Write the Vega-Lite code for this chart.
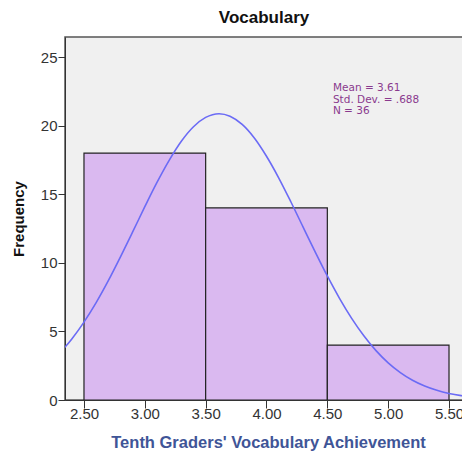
{
  "$schema": "https://vega.github.io/schema/vega-lite/v6.json",
  "width": 398,
  "height": 363,
  "autosize": "none",
  "padding": {"left": 65, "top": 37, "right": 0, "bottom": 56},
  "background": "white",
  "config": {
    "font": "Liberation Sans",
    "view": {"fill": "#f0f0f0", "stroke": "#555555", "strokeWidth": 1.5},
    "axis": {"grid": false, "domainColor": "#333333", "tickColor": "#333333", "labelColor": "#333333", "labelFontSize": 15, "labelFont": "Liberation Sans", "titleFont": "Liberation Sans"}
  },
  "title": {"text": "Vocabulary", "fontSize": 17, "font": "Liberation Sans", "fontWeight": "bold", "color": "#111111", "offset": 10, "anchor": "middle"},
  "datasets": {
    "bins": [
      {"lo": 2.5, "hi": 3.5, "count": 18},
      {"lo": 3.5, "hi": 4.5, "count": 14},
      {"lo": 4.5, "hi": 5.5, "count": 4}
    ],
    "curve": [
      {"x": 2.3, "y": 3.41}, {"x": 2.4, "y": 4.45}, {"x": 2.5, "y": 5.68}, {"x": 2.6, "y": 7.10},
      {"x": 2.7, "y": 8.70}, {"x": 2.8, "y": 10.44}, {"x": 2.9, "y": 12.25}, {"x": 3.0, "y": 14.09},
      {"x": 3.1, "y": 15.86}, {"x": 3.2, "y": 17.47}, {"x": 3.3, "y": 18.86}, {"x": 3.4, "y": 19.92},
      {"x": 3.5, "y": 20.60}, {"x": 3.61, "y": 20.87}, {"x": 3.7, "y": 20.69}, {"x": 3.8, "y": 20.09},
      {"x": 3.9, "y": 19.10}, {"x": 4.0, "y": 17.77}, {"x": 4.1, "y": 16.20}, {"x": 4.2, "y": 14.45},
      {"x": 4.3, "y": 12.62}, {"x": 4.4, "y": 10.80}, {"x": 4.5, "y": 9.04}, {"x": 4.6, "y": 7.41},
      {"x": 4.7, "y": 5.95}, {"x": 4.8, "y": 4.68}, {"x": 4.9, "y": 3.60}, {"x": 5.0, "y": 2.71},
      {"x": 5.1, "y": 2.00}, {"x": 5.2, "y": 1.44}, {"x": 5.3, "y": 1.02}, {"x": 5.4, "y": 0.71},
      {"x": 5.5, "y": 0.48}, {"x": 5.6, "y": 0.32}, {"x": 5.7, "y": 0.21}
    ],
    "stats": [{"label": ["Mean = 3.61", "Std. Dev. = .688", "N = 36"]}]
  },
  "layer": [
    {
      "data": {"name": "bins"},
      "mark": {"type": "rect", "fill": "#dab9f0", "stroke": "#222222", "strokeWidth": 1.2, "clip": true},
      "encoding": {
        "x": {"field": "lo", "type": "quantitative",
          "scale": {"domain": [2.344, 5.615], "nice": false, "zero": false},
          "axis": {"values": [2.5, 3.0, 3.5, 4.0, 4.5, 5.0, 5.5], "format": ".2f", "tickSize": 8, "labelPadding": -2,
            "title": "Tenth Graders' Vocabulary Achievement", "titleColor": "#3f5597", "titleFontSize": 16.5, "titleFontWeight": "bold", "titlePadding": 13, "titleX": 203}},
        "x2": {"field": "hi"},
        "y": {"field": "count", "type": "quantitative",
          "scale": {"domain": [0, 26.46], "nice": false},
          "axis": {"values": [0, 5, 10, 15, 20, 25], "tickSize": 7, "labelPadding": 1,
            "title": "Frequency", "titleColor": "#111111", "titleFontSize": 15, "titleFontWeight": "bold", "titlePadding": 14}},
        "y2": {"datum": 0}
      }
    },
    {
      "data": {"name": "curve"},
      "mark": {"type": "line", "color": "#6b6bf5", "strokeWidth": 1.6, "clip": true, "interpolate": "monotone"},
      "encoding": {
        "x": {"field": "x", "type": "quantitative"},
        "y": {"field": "y", "type": "quantitative"}
      }
    },
    {
      "data": {"name": "stats"},
      "mark": {"type": "text", "align": "left", "baseline": "top", "color": "#8a3a8e", "fontSize": 10.5, "font": "DejaVu Sans", "lineHeight": 11.5},
      "encoding": {
        "x": {"datum": 4.546},
        "y": {"datum": 23.1},
        "text": {"field": "label"}
      }
    }
  ]
}
